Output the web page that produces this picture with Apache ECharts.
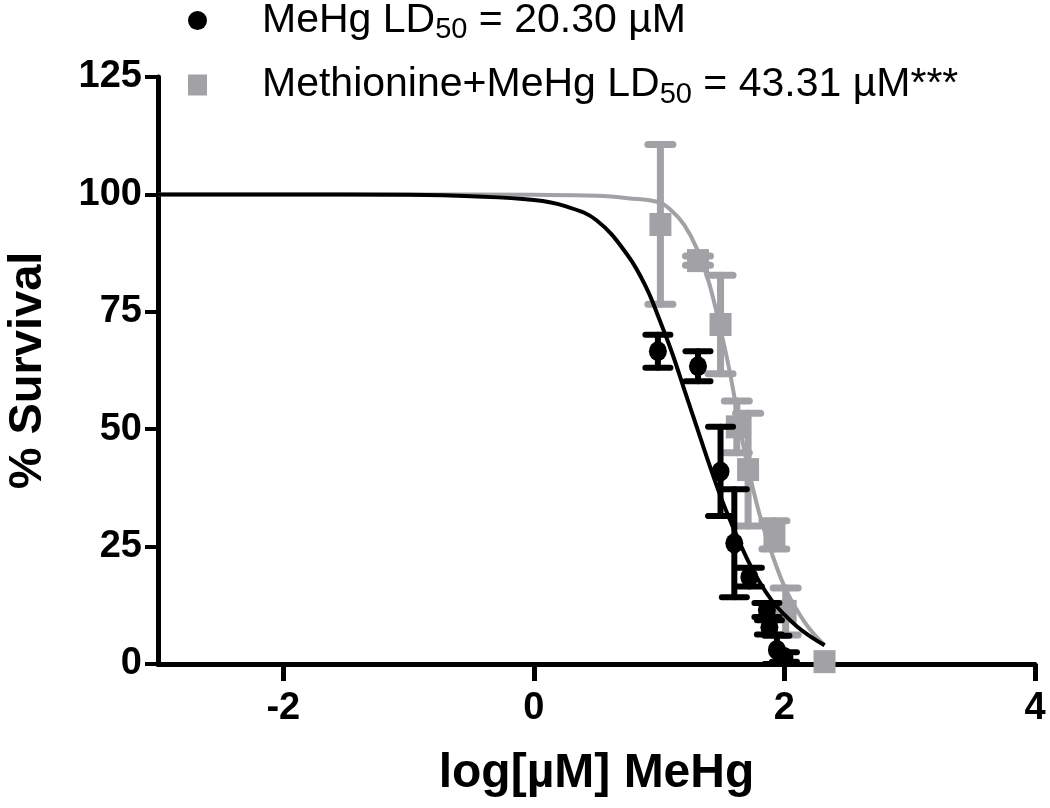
<!DOCTYPE html>
<html><head><meta charset="utf-8">
<script src="https://cdn.jsdelivr.net/npm/echarts@6/dist/echarts.min.js"></script>
<style>html,body{margin:0;padding:0;background:#fff}#c{width:1050px;height:808px}</style>
</head><body><div id="c"></div>
<script>
// ---- data ----
const xTicks = [-2, 0, 2, 4];
const yTicks = [0, 25, 50, 75, 100, 125];

const mehgName = 'MeHg LD50 = 20.30 µM';
const metName = 'Methionine+MeHg LD50 = 43.31 µM***';

// MeHg alone (black circles), x = log[µM], y = % survival, err = SEM
const mehgX   = [0.99, 1.31, 1.49, 1.60, 1.72, 1.86, 1.88, 1.94, 2.00];
const mehgY   = [66.6, 63.4, 41.0, 25.7, 18.5, 11.5, 7.8, 3.0, 1.5];
const mehgErr = [3.5, 3.2, 9.5, 11.5, 2.0, 1.5, 1.5, 3.0, 1.0];

// Methionine + MeHg (grey squares)
const metX   = [1.01, 1.31, 1.49, 1.62, 1.71, 1.92, 2.01, 2.32];
const metY   = [93.6, 85.9, 72.3, 50.5, 41.4, 27.5, 11.2, 0.5];
const metErr = [17.0, 1.0, 10.5, 5.5, 12.0, 3.0, 5.0, 0.0];

// fitted curves
const mehgFitX = [-3, -2, -1, -0.5, 0, 0.25, 0.5, 0.75, 0.9, 1.0, 1.1, 1.2, 1.3, 1.4, 1.5, 1.6, 1.7, 1.8, 1.9, 2.0, 2.1, 2.2, 2.32];
const mehgFitY = [100, 100, 99.9, 99.6, 98.8, 97.5, 94.5, 87, 80, 73.5, 66.5, 58.5, 50.5, 42.5, 35, 28.5, 22.5, 17.5, 13.5, 10.5, 8, 6, 4];
const metFitX = [-3, -1, 0, 0.5, 0.75, 1.0, 1.1, 1.2, 1.3, 1.4, 1.5, 1.55, 1.6, 1.65, 1.7, 1.8, 1.9, 2.0, 2.1, 2.2, 2.32];
const metFitY = [100, 100, 99.9, 99.7, 99.2, 98.3, 96.5, 93.5, 88.5, 81, 70, 64, 57, 49.5, 43, 32, 23.5, 16.5, 11.5, 7.5, 4];

// ---- build ----
const FONT = '"Liberation Sans", Arial, sans-serif';
const BLACK = '#000000';
const GREY = '#a2a2a6';

const zip = (xs, ys) => xs.map((x, i) => [x, ys[i]]);
const zip3 = (xs, ys, es) => xs.map((x, i) => [x, ys[i], es[i]]);

function errRender(color, lw) {
  return function (params, api) {
    const x = api.value(0), y = api.value(1), e = api.value(2);
    if (!e) return null;
    const top = api.coord([x, y + e]);
    const bot = api.coord([x, y - e]);
    const hw = 12.5;
    const style = { stroke: color, lineWidth: lw, lineCap: 'round', fill: null };
    return {
      type: 'group',
      children: [
        { type: 'line', shape: { x1: top[0], y1: top[1], x2: bot[0], y2: bot[1] }, style: style },
        { type: 'line', shape: { x1: top[0] - hw, y1: top[1], x2: top[0] + hw, y2: top[1] }, style: style },
        { type: 'line', shape: { x1: bot[0] - hw, y1: bot[1], x2: bot[0] + hw, y2: bot[1] }, style: style }
      ]
    };
  };
}

const chart = echarts.init(document.getElementById('c'), null, { renderer: 'canvas' });
chart.setOption({
  animation: false,
  backgroundColor: '#ffffff',
  textStyle: { fontFamily: FONT },
  grid: { left: 158, right: 15, top: 77, bottom: 144, containLabel: false, outerBoundsMode: 'none' },
  legend: {
    data: [
      { name: mehgName, icon: 'circle', itemStyle: { color: BLACK } },
      { name: metName, icon: 'rect', itemStyle: { color: GREY } }
    ],
    orient: 'vertical',
    left: 188,
    top: 0,
    padding: 0,
    itemWidth: 19,
    itemHeight: 21,
    itemGap: 20,
    selectedMode: false,
    formatter: function (name) {
      if (name === mehgName) return '{a|MeHg LD}{s|50}{a| = 20.30 µM}';
      return '{a|Methionine+MeHg LD}{s|50}{a| = 43.31 µM***}';
    },
    textStyle: {
      padding: [0, 0, 0, 50],
      color: BLACK,
      fontFamily: FONT,
      rich: {
        a: { fontSize: 41, lineHeight: 48, color: BLACK, fontFamily: FONT },
        s: { fontSize: 29, lineHeight: 20, verticalAlign: 'bottom', color: BLACK, fontFamily: FONT }
      }
    }
  },
  xAxis: {
    type: 'value',
    min: -3,
    max: 4,
    name: 'log[µM] MeHg',
    nameLocation: 'middle',
    nameGap: 86,
    nameTextStyle: { fontSize: 48, fontWeight: 'bold', color: BLACK, fontFamily: FONT },
    axisLine: { show: true, onZero: false, lineStyle: { color: BLACK, width: 5 } },
    axisTick: { show: true, customValues: xTicks, length: 17, lineStyle: { color: BLACK, width: 5 } },
    axisLabel: { customValues: xTicks, fontSize: 38, fontWeight: 'bold', color: BLACK, margin: 26, fontFamily: FONT },
    splitLine: { show: false }
  },
  yAxis: {
    type: 'value',
    min: 0,
    max: 125,
    interval: 25,
    name: '% Survival',
    nameLocation: 'middle',
    nameGap: 106,
    nameTextStyle: { fontSize: 47, fontWeight: 'bold', color: BLACK, fontFamily: FONT },
    axisLine: { show: true, onZero: false, lineStyle: { color: BLACK, width: 5 } },
    axisTick: { show: true, customValues: yTicks, length: 13, lineStyle: { color: BLACK, width: 4 } },
    axisLabel: { customValues: yTicks, fontSize: 38, fontWeight: 'bold', color: BLACK, margin: 16, fontFamily: FONT },
    splitLine: { show: false }
  },
  series: [
    {
      name: 'metFit', type: 'line', data: zip(metFitX, metFitY), smooth: 0.4,
      showSymbol: false, symbol: 'none', lineStyle: { color: GREY, width: 4 }, z: 1, silent: true
    },
    {
      name: 'metErr', type: 'custom', data: zip3(metX, metY, metErr),
      renderItem: errRender(GREY, 7), z: 2, silent: true
    },
    {
      name: metName, type: 'scatter', data: zip(metX, metY), symbol: 'rect', symbolSize: [22, 23],
      itemStyle: { color: GREY, opacity: 1 }, z: 3
    },
    {
      name: 'mehgFit', type: 'line', data: zip(mehgFitX, mehgFitY), smooth: 0.4,
      showSymbol: false, symbol: 'none', lineStyle: { color: BLACK, width: 4 }, z: 4, silent: true
    },
    {
      name: 'mehgErr', type: 'custom', data: zip3(mehgX, mehgY, mehgErr),
      renderItem: errRender(BLACK, 6), z: 5, silent: true
    },
    {
      name: mehgName, type: 'scatter', data: zip(mehgX, mehgY), symbol: 'circle', symbolSize: [18, 20],
      itemStyle: { color: BLACK, opacity: 1 }, z: 6
    }
  ]
});
</script>
</body></html>
